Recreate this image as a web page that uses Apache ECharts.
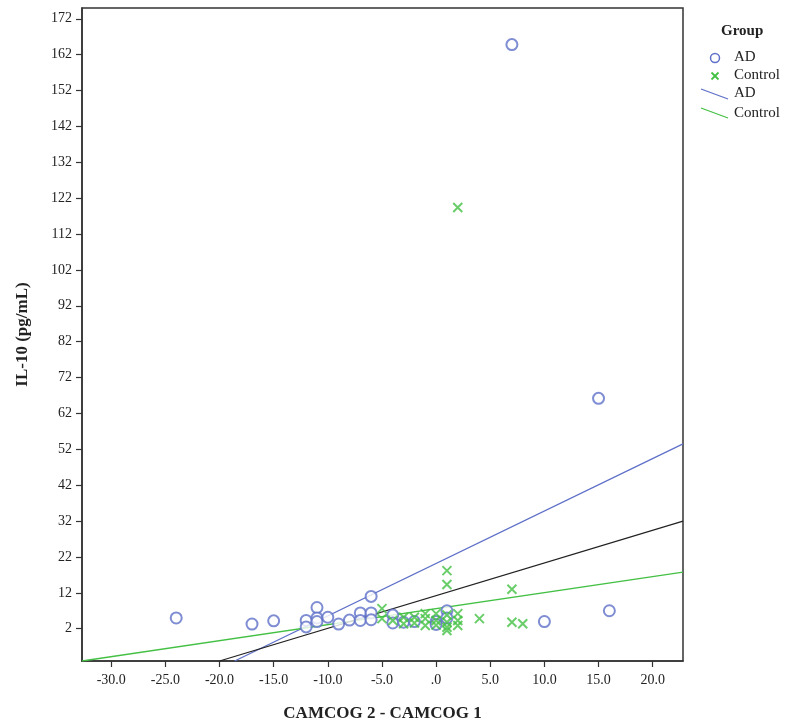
<!DOCTYPE html>
<html>
<head>
<meta charset="utf-8">
<script src="https://cdn.jsdelivr.net/npm/echarts@6/dist/echarts.min.js"></script>
<style>html,body{margin:0;padding:0;background:#fff}#c{width:792px;height:727px}</style>
</head>
<body>
<div id="c"></div>
<script>
// AD group scatter
var adX = [-24, -17, -15, -12, -12, -11, -11, -11, -10, -9, -8, -7, -7, -6, -6, -6, -4, -4, -3, -2, 0, 0, 1, 1, 7, 10, 15, 16];
var adY = [5.0, 3.3, 4.2, 4.3, 2.5, 7.9, 5.0, 4.0, 5.2, 3.3, 4.4, 6.4, 4.3, 11.0, 6.4, 4.5, 5.8, 3.6, 3.8, 4.0, 4.0, 3.2, 7.0, 5.0, 164.8, 4.0, 66.2, 7.0];
// Control group scatter
var ctrlX = [2, 1, 1, 7, -5, -5, -4, -3, -3, -2, -2, -1, -1, -1, 0, 0, 0, 1, 1, 1, 1, 2, 2, 2, 4, 7, 8];
var ctrlY = [119.4, 18.2, 14.3, 13.0, 7.6, 4.8, 4.3, 5.2, 3.4, 5.2, 3.6, 6.2, 4.8, 2.9, 6.2, 4.3, 3.0, 5.8, 3.8, 2.4, 1.5, 6.2, 4.3, 2.9, 4.8, 3.8, 3.4];
// Fit lines (endpoints)
var adFitX = [-18.6, 22.8], adFitY = [-7, 53.5];
var ctrlFitX = [-32.7, 22.8], ctrlFitY = [-7, 17.8];
var totalFitX = [-20.0, 22.8], totalFitY = [-7, 32.0];
// Ticks
var xTicks = [-30, -25, -20, -15, -10, -5, 0, 5, 10, 15, 20];
var yTicks = [2, 12, 22, 32, 42, 52, 62, 72, 82, 92, 102, 112, 122, 132, 142, 152, 162, 172];

function zip(a, b) { return a.map(function (v, i) { return [v, b[i]]; }); }

var FONT = '"Liberation Serif", "DejaVu Serif", serif';
var BLUE = '#5f70c8';
var GREEN = '#44c044';

var chart = echarts.init(document.getElementById('c'));
chart.setOption({
  animation: false,
  backgroundColor: '#fff',
  grid: { left: 82, right: 109, top: 8, bottom: 66, show: true, borderColor: '#333', borderWidth: 1.5, backgroundColor: '#fff' },
  xAxis: {
    type: 'value', min: -32.7, max: 22.8,
    name: 'CAMCOG 2 - CAMCOG 1', nameLocation: 'middle', nameGap: 44,
    nameTextStyle: { fontFamily: FONT, fontSize: 17, fontWeight: 'bold', color: '#222' },
    axisLine: { show: true, onZero: false, lineStyle: { color: '#333', width: 1.5 } },
    axisTick: { show: true, inside: false, length: 6, customValues: xTicks, lineStyle: { color: '#333', width: 1.2 } },
    axisLabel: { customValues: xTicks, fontFamily: FONT, fontSize: 14, color: '#222', margin: 12,
      formatter: function (v) { return v === 0 ? '.0' : v.toFixed(1); } },
    splitLine: { show: false }
  },
  yAxis: {
    type: 'value', min: -7, max: 175,
    name: 'IL-10 (pg/mL)', nameLocation: 'middle', nameGap: 51, nameRotate: 90,
    nameTextStyle: { fontFamily: FONT, fontSize: 17, fontWeight: 'bold', color: '#222' },
    axisLine: { show: true, onZero: false, lineStyle: { color: '#333', width: 1.5 } },
    axisTick: { show: true, inside: false, length: 6, customValues: yTicks, lineStyle: { color: '#333', width: 1.2 } },
    axisLabel: { customValues: yTicks, fontFamily: FONT, fontSize: 14, color: '#222', margin: 10 },
    splitLine: { show: false }
  },
  series: [
    { name: 'AD', type: 'scatter', data: zip(adX, adY), symbol: 'emptyCircle', symbolSize: 11,
      itemStyle: { color: BLUE, borderColor: BLUE, borderWidth: 1.6 }, z: 3 },
    { name: 'Control', type: 'scatter', data: zip(ctrlX, ctrlY), symbol: 'path://M0,0L10,10M10,0L0,10', symbolSize: 9,
      itemStyle: { color: 'none', borderColor: GREEN, borderWidth: 2 }, z: 4 },
    { name: 'AD fit', type: 'line', data: zip(adFitX, adFitY), symbol: 'none', clip: true,
      lineStyle: { color: BLUE, width: 1.3 }, z: 2 },
    { name: 'Control fit', type: 'line', data: zip(ctrlFitX, ctrlFitY), symbol: 'none', clip: true,
      lineStyle: { color: GREEN, width: 1.3 }, z: 2 },
    { name: 'Total fit', type: 'line', data: zip(totalFitX, totalFitY), symbol: 'none', clip: true,
      lineStyle: { color: '#222', width: 1.3 }, z: 2 }
  ],
  graphic: [
    { type: 'text', left: 721, top: 24, style: { text: 'Group', font: 'bold 15px ' + FONT, fill: '#222' } },
    { type: 'circle', shape: { cx: 715, cy: 58, r: 4.5 }, style: { fill: 'none', stroke: BLUE, lineWidth: 1.5 } },
    { type: 'text', left: 734, top: 50, style: { text: 'AD', font: '15px ' + FONT, fill: '#222' } },
    { type: 'polyline', shape: { points: [[711.5, 72.5], [718.5, 79.5]] }, style: { stroke: GREEN, lineWidth: 1.8 } },
    { type: 'polyline', shape: { points: [[718.5, 72.5], [711.5, 79.5]] }, style: { stroke: GREEN, lineWidth: 1.8 } },
    { type: 'text', left: 734, top: 68, style: { text: 'Control', font: '15px ' + FONT, fill: '#222' } },
    { type: 'line', shape: { x1: 701, y1: 89, x2: 728, y2: 99 }, style: { stroke: BLUE, lineWidth: 1.3 } },
    { type: 'text', left: 734, top: 86, style: { text: 'AD', font: '15px ' + FONT, fill: '#222' } },
    { type: 'line', shape: { x1: 701, y1: 108, x2: 728, y2: 118 }, style: { stroke: GREEN, lineWidth: 1.3 } },
    { type: 'text', left: 734, top: 106, style: { text: 'Control', font: '15px ' + FONT, fill: '#222' } }
  ]
});
</script>
</body>
</html>
